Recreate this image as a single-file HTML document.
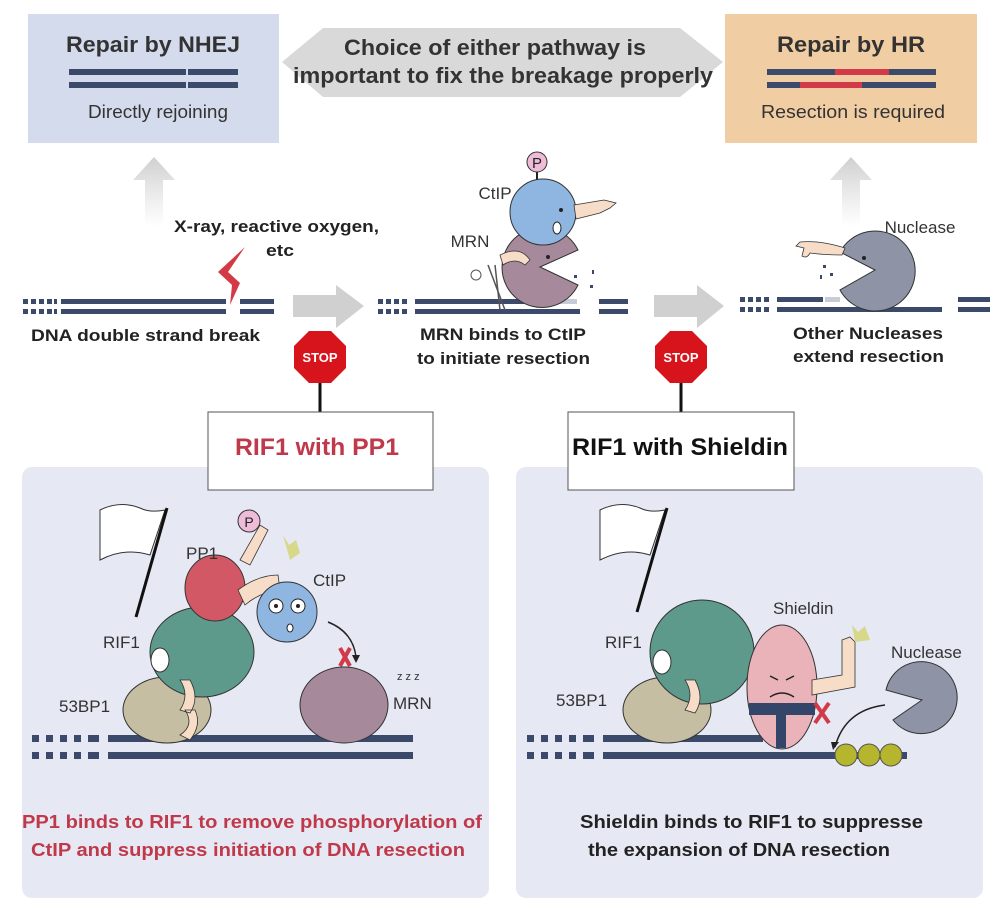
<!DOCTYPE html>
<html><head><meta charset="utf-8"><style>
html,body{margin:0;padding:0;background:#fff;}
svg{display:block;font-family:"Liberation Sans",Arial,sans-serif;}
</style></head><body>
<svg width="999" height="916" viewBox="0 0 999 916" xmlns="http://www.w3.org/2000/svg">
<defs>
<linearGradient id="ga" x1="0" y1="1" x2="0" y2="0"><stop offset="0" stop-color="#d8d8d8" stop-opacity="0"/><stop offset="1" stop-color="#cfcfcf"/></linearGradient>
</defs>
<!-- top boxes -->
<rect x="28" y="14" width="251" height="129" fill="#d3dbec"/>
<text x="66" y="52" font-size="22" font-weight="bold" fill="#333" textLength="174" lengthAdjust="spacingAndGlyphs">Repair by NHEJ</text>
<rect x="69" y="69" width="117" height="6" fill="#3b4a6b"/><rect x="188" y="69" width="50" height="6" fill="#3b4a6b"/>
<rect x="69" y="82" width="117" height="6" fill="#3b4a6b"/><rect x="188" y="82" width="50" height="6" fill="#3b4a6b"/>
<text x="88" y="118" font-size="18" fill="#333" textLength="140" lengthAdjust="spacingAndGlyphs">Directly rejoining</text>

<polygon points="282,62 323,28 680,28 723,62 680,97 323,97" fill="#d9d9d9"/>
<text x="344" y="55" font-size="22" font-weight="bold" fill="#333" textLength="302" lengthAdjust="spacingAndGlyphs">Choice of either pathway is</text>
<text x="293" y="83" font-size="22" font-weight="bold" fill="#333" textLength="420" lengthAdjust="spacingAndGlyphs">important to fix the breakage properly</text>

<rect x="725" y="14" width="252" height="129" fill="#f1cda3"/>
<text x="777" y="52" font-size="22" font-weight="bold" fill="#333" textLength="148" lengthAdjust="spacingAndGlyphs">Repair by HR</text>
<rect x="767" y="69" width="169" height="6" fill="#3b4a6b"/><rect x="835" y="69" width="54" height="6" fill="#d33a48"/>
<rect x="767" y="82" width="169" height="6" fill="#3b4a6b"/><rect x="800" y="82" width="62" height="6" fill="#d33a48"/>
<text x="761" y="118" font-size="18" fill="#333" textLength="184" lengthAdjust="spacingAndGlyphs">Resection is required</text>

<!-- up arrows -->
<polygon points="133,180 154,157 175,180 163,180 163,227 145,227 145,180" fill="url(#ga)"/>
<polygon points="830,180 851,157 872,180 860,180 860,227 842,227 842,180" fill="url(#ga)"/>

<!-- DNA row 1 -->
<g fill="#3b4a6b">
<rect x="23" y="299" width="5" height="5"/><rect x="31" y="299" width="5" height="5"/><rect x="39" y="299" width="5" height="5"/><rect x="47" y="299" width="5" height="5"/><rect x="54" y="299" width="3" height="5"/>
<rect x="23" y="309" width="5" height="5"/><rect x="31" y="309" width="5" height="5"/><rect x="39" y="309" width="5" height="5"/><rect x="47" y="309" width="5" height="5"/><rect x="54" y="309" width="3" height="5"/>
<rect x="61" y="299" width="165" height="5"/><rect x="61" y="309" width="165" height="5"/>
<rect x="240" y="299" width="34" height="5"/><rect x="240" y="309" width="34" height="5"/>
</g>
<polygon points="245,247 218,272 232,285 230,305 240,283 228,272" fill="#d43a45"/>
<text x="174" y="232" font-size="17" font-weight="bold" fill="#222" textLength="205" lengthAdjust="spacingAndGlyphs">X-ray, reactive oxygen,</text>
<text x="266" y="256" font-size="17" font-weight="bold" fill="#222" textLength="28" lengthAdjust="spacingAndGlyphs">etc</text>
<text x="31" y="341" font-size="17" font-weight="bold" fill="#222" textLength="229" lengthAdjust="spacingAndGlyphs">DNA double strand break</text>
<polygon points="293,295 336,295 336,285 364,306 336,328 336,317 293,317" fill="#d0d0d0"/>

<!-- DNA row 2 -->
<g fill="#3b4a6b">
<rect x="378" y="299" width="5" height="5"/><rect x="386" y="299" width="5" height="5"/><rect x="394" y="299" width="5" height="5"/><rect x="402" y="299" width="5" height="5"/>
<rect x="378" y="309" width="5" height="5"/><rect x="386" y="309" width="5" height="5"/><rect x="394" y="309" width="5" height="5"/><rect x="402" y="309" width="5" height="5"/>
<rect x="415" y="299" width="140" height="5"/><rect x="415" y="309" width="165" height="5"/>
<rect x="599" y="299" width="29" height="5"/><rect x="599" y="309" width="29" height="5"/>
</g>
<rect x="557" y="299" width="20" height="5" fill="#c8ccd6"/>
<path d="M540,267 L578,250 A40,40 0 1,0 578,285 Z" fill="#a6899a" stroke="#333" stroke-width="1"/>
<circle cx="548" cy="257" r="2" fill="#222"/>
<path d="M500,255 q20,-10 30,5 l-5,5 q-10,-8 -22,0 z" fill="#f7dcc8" stroke="#333" stroke-width="0.8"/>
<line x1="488" y1="265" x2="505" y2="310" stroke="#555" stroke-width="1.5"/><line x1="495" y1="265" x2="500" y2="310" stroke="#555" stroke-width="1.5"/>
<circle cx="476" cy="275" r="5" fill="none" stroke="#555"/>
<g fill="#3b4a6b"><rect x="574" y="275" width="3" height="3"/><rect x="592" y="270" width="2" height="4"/><rect x="590" y="285" width="3" height="3"/></g>
<line x1="537" y1="172" x2="537" y2="182" stroke="#222" stroke-width="2"/>
<circle cx="543" cy="212" r="33" fill="#8fb6e1" stroke="#333" stroke-width="1"/>
<circle cx="537" cy="162" r="10" fill="#eebcd8" stroke="#333" stroke-width="1"/>
<text x="537" y="168" font-size="15" text-anchor="middle" fill="#222">P</text>
<path d="M574,205 l30,-5 l12,3 l-6,5 l-10,5 l-24,6 z" fill="#f7dcc8" stroke="#333" stroke-width="0.8"/>
<circle cx="561" cy="210" r="2" fill="#222"/>
<ellipse cx="557" cy="228" rx="4" ry="6" fill="#fff" stroke="#222"/>
<text x="495" y="199" font-size="17" text-anchor="middle" fill="#333">CtIP</text>
<text x="470" y="247" font-size="17" text-anchor="middle" fill="#333">MRN</text>
<text x="420" y="340" font-size="17" font-weight="bold" fill="#222" textLength="166" lengthAdjust="spacingAndGlyphs">MRN binds to CtIP</text>
<text x="417" y="364" font-size="17" font-weight="bold" fill="#222" textLength="173" lengthAdjust="spacingAndGlyphs">to initiate resection</text>
<polygon points="654,295 697,295 697,285 724,306 697,328 697,317 654,317" fill="#d0d0d0"/>

<!-- DNA row 3 -->
<g fill="#3b4a6b">
<rect x="740" y="297" width="5" height="5"/><rect x="748" y="297" width="5" height="5"/><rect x="756" y="297" width="5" height="5"/><rect x="764" y="297" width="5" height="5"/>
<rect x="740" y="307" width="5" height="5"/><rect x="748" y="307" width="5" height="5"/><rect x="756" y="307" width="5" height="5"/><rect x="764" y="307" width="5" height="5"/>
<rect x="777" y="297" width="46" height="5"/><rect x="777" y="307" width="165" height="5"/>
<rect x="958" y="297" width="32" height="5"/><rect x="958" y="307" width="32" height="5"/>
</g>
<rect x="825" y="297" width="15" height="5" fill="#c8ccd6"/>
<path d="M875,270 L840,252 A40,40 0 1,1 840,290 Z" fill="#8e94a5" stroke="#333" stroke-width="1"/>
<circle cx="864" cy="258" r="2" fill="#222"/>
<path d="M845,248 q-25,-8 -45,-6 l-4,4 l8,2 l-2,8 q5,3 8,-3 q15,2 32,2 z" fill="#f7dcc8" stroke="#333" stroke-width="0.8"/>
<g fill="#3b4a6b"><rect x="823" y="265" width="3" height="3"/><rect x="820" y="275" width="2" height="4"/><rect x="830" y="273" width="3" height="3"/></g>
<text x="920" y="233" font-size="17" text-anchor="middle" fill="#333">Nuclease</text>
<text x="793" y="339" font-size="17" font-weight="bold" fill="#222" textLength="150" lengthAdjust="spacingAndGlyphs">Other Nucleases</text>
<text x="793" y="362" font-size="17" font-weight="bold" fill="#222" textLength="151" lengthAdjust="spacingAndGlyphs">extend resection</text>

<!-- STOP signs -->
<line x1="320" y1="370" x2="320" y2="412" stroke="#111" stroke-width="3"/>
<polygon points="309,331 331,331 346,346 346,368 331,383 309,383 294,368 294,346" fill="#d7131b"/>
<text x="320" y="362" font-size="13" font-weight="bold" text-anchor="middle" fill="#fff">STOP</text>
<line x1="681" y1="370" x2="681" y2="412" stroke="#111" stroke-width="3"/>
<polygon points="670,331 692,331 707,346 707,368 692,383 670,383 655,368 655,346" fill="#d7131b"/>
<text x="681" y="362" font-size="13" font-weight="bold" text-anchor="middle" fill="#fff">STOP</text>

<!-- bottom panels -->
<rect x="22" y="467" width="467" height="431" rx="10" fill="#e6e9f3"/>
<rect x="516" y="467" width="467" height="431" rx="10" fill="#e6e9f3"/>
<rect x="208" y="412" width="225" height="78" fill="#fff" stroke="#555" stroke-width="1"/>
<text x="235" y="455" font-size="24" font-weight="bold" fill="#c0394a" textLength="164" lengthAdjust="spacingAndGlyphs">RIF1 with PP1</text>
<rect x="568" y="412" width="226" height="78" fill="#fff" stroke="#555" stroke-width="1"/>
<text x="572" y="455" font-size="24" font-weight="bold" fill="#111" textLength="216" lengthAdjust="spacingAndGlyphs">RIF1 with Shieldin</text>

<g fill="#3b4a6b">
<rect x="32" y="735" width="7" height="7"/><rect x="46" y="735" width="7" height="7"/><rect x="60" y="735" width="7" height="7"/><rect x="74" y="735" width="7" height="7"/><rect x="88" y="735" width="11" height="7"/>
<rect x="32" y="752" width="7" height="7"/><rect x="46" y="752" width="7" height="7"/><rect x="60" y="752" width="7" height="7"/><rect x="74" y="752" width="7" height="7"/><rect x="88" y="752" width="11" height="7"/>
<rect x="108" y="735" width="305" height="7"/><rect x="108" y="752" width="305" height="7"/>
<rect x="527" y="735" width="7" height="7"/><rect x="541" y="735" width="7" height="7"/><rect x="555" y="735" width="7" height="7"/><rect x="569" y="735" width="7" height="7"/><rect x="583" y="735" width="11" height="7"/>
<rect x="527" y="752" width="7" height="7"/><rect x="541" y="752" width="7" height="7"/><rect x="555" y="752" width="7" height="7"/><rect x="569" y="752" width="7" height="7"/><rect x="583" y="752" width="11" height="7"/>
<rect x="603" y="735" width="160" height="7"/><rect x="603" y="752" width="304" height="7"/>
</g>

<!-- left characters -->
<path d="M100,510 q20,-10 40,-2 q10,5 25,2 l-15,45 q-25,-8 -50,5 z" fill="#fff" stroke="#333" stroke-width="1"/>
<line x1="167" y1="508" x2="136" y2="617" stroke="#111" stroke-width="3"/>
<ellipse cx="167" cy="710" rx="44" ry="33" fill="#c6bea3" stroke="#333" stroke-width="1"/>
<ellipse cx="202" cy="652" rx="52" ry="45" fill="#5e9a8c" stroke="#333" stroke-width="1"/>
<ellipse cx="160" cy="660" rx="9" ry="12" fill="#fff" stroke="#333"/>
<ellipse cx="215" cy="588" rx="30" ry="33" fill="#d25866" stroke="#333" stroke-width="1"/>
<path d="M238,590 q20,-15 40,-15 l2,15 q-20,2 -35,15 z" fill="#f7dcc8" stroke="#333" stroke-width="0.8"/>
<path d="M240,560 l20,-35 l8,5 l-18,35 z" fill="#f7dcc8" stroke="#333" stroke-width="0.8"/>
<circle cx="249" cy="521" r="11" fill="#eebcd8" stroke="#333"/>
<text x="249" y="527" font-size="14" text-anchor="middle" fill="#222">P</text>
<circle cx="287" cy="612" r="30" fill="#8fb6e1" stroke="#333" stroke-width="1"/>
<circle cx="276" cy="606" r="7" fill="#fff" stroke="#222"/><circle cx="298" cy="606" r="7" fill="#fff" stroke="#222"/>
<circle cx="276" cy="606" r="2" fill="#222"/><circle cx="298" cy="606" r="2" fill="#222"/>
<ellipse cx="290" cy="628" rx="3" ry="4" fill="#fff" stroke="#222"/>
<path d="M180,680 q10,15 0,30 l10,3 q10,-15 0,-33 z M185,710 q10,15 -5,25 l10,5 q12,-15 5,-30 z" fill="#f7dcc8" stroke="#333" stroke-width="0.8"/>
<polygon points="283,535 289,545 296,540 300,553 290,560" fill="#d8d88a"/>
<path d="M340,648 l10,18" stroke="#d23a48" stroke-width="4"/><path d="M350,648 l-10,18" stroke="#d23a48" stroke-width="4"/>
<path d="M328,622 q25,10 28,35" fill="none" stroke="#222" stroke-width="1.5"/>
<polygon points="352,655 360,655 356,663" fill="#222"/>
<ellipse cx="344" cy="705" rx="44" ry="38" fill="#a6899a" stroke="#333" stroke-width="1"/>
<text x="397" y="680" font-size="11" fill="#333">z z z</text>
<text x="103" y="648" font-size="17" fill="#333">RIF1</text>
<text x="186" y="559" font-size="17" fill="#333">PP1</text>
<text x="313" y="586" font-size="17" fill="#333">CtIP</text>
<text x="59" y="712" font-size="17" fill="#333">53BP1</text>
<text x="393" y="709" font-size="17" fill="#333">MRN</text>

<!-- right characters -->
<path d="M600,510 q20,-10 40,-2 q10,5 25,2 l-15,45 q-25,-8 -50,5 z" fill="#fff" stroke="#333" stroke-width="1"/>
<line x1="667" y1="508" x2="637" y2="612" stroke="#111" stroke-width="3"/>
<ellipse cx="667" cy="710" rx="44" ry="33" fill="#c6bea3" stroke="#333" stroke-width="1"/>
<ellipse cx="702" cy="652" rx="52" ry="52" fill="#5e9a8c" stroke="#333" stroke-width="1"/>
<ellipse cx="662" cy="662" rx="9" ry="12" fill="#fff" stroke="#333"/>
<path d="M685,680 q10,15 0,30 l10,3 q10,-15 0,-33 z" fill="#f7dcc8" stroke="#333" stroke-width="0.8"/>
<ellipse cx="782" cy="687" rx="35" ry="62" fill="#eab3b9" stroke="#333" stroke-width="1"/>
<rect x="749" y="703" width="66" height="12" fill="#34456a"/>
<rect x="776" y="712" width="10" height="36" fill="#34456a"/>
<path d="M770,676 l8,4 M794,676 l-8,4 M770,697 q12,-8 24,0" fill="none" stroke="#222" stroke-width="1.5"/>
<path d="M812,680 l30,-5 l0,-35 l8,-3 l5,5 l0,45 l-43,8 z" fill="#f7dcc8" stroke="#333" stroke-width="0.8"/>
<polygon points="852,625 858,632 865,626 870,640 855,642" fill="#d8d88a"/>
<path d="M922,700 L886,690 A36,36 0 1,1 893,720 Z" fill="#8e94a5" stroke="#333" stroke-width="1"/>
<path d="M815,703 l14,20 M829,703 l-14,20" stroke="#d23a48" stroke-width="4"/>
<path d="M885,705 q-40,5 -50,42" fill="none" stroke="#222" stroke-width="1.5"/>
<polygon points="831,742 839,742 833,750" fill="#222"/>
<circle cx="846" cy="755" r="11" fill="#b5b52e" stroke="#555"/><circle cx="869" cy="755" r="11" fill="#b5b52e" stroke="#555"/><circle cx="891" cy="755" r="11" fill="#b5b52e" stroke="#555"/>
<text x="605" y="648" font-size="17" fill="#333">RIF1</text>
<text x="556" y="706" font-size="17" fill="#333">53BP1</text>
<text x="773" y="614" font-size="17" fill="#333">Shieldin</text>
<text x="891" y="658" font-size="17" fill="#333">Nuclease</text>

<!-- captions -->
<text x="22" y="828" font-size="18" font-weight="bold" fill="#c0394a" textLength="460" lengthAdjust="spacingAndGlyphs">PP1 binds to RIF1 to remove phosphorylation of</text>
<text x="31" y="856" font-size="18" font-weight="bold" fill="#c0394a" textLength="434" lengthAdjust="spacingAndGlyphs">CtIP and suppress initiation of DNA resection</text>
<text x="580" y="828" font-size="18" font-weight="bold" fill="#222" textLength="343" lengthAdjust="spacingAndGlyphs">Shieldin binds to RIF1 to suppresse</text>
<text x="588" y="856" font-size="18" font-weight="bold" fill="#222" textLength="302" lengthAdjust="spacingAndGlyphs">the expansion of DNA resection</text>
</svg>
</body></html>
